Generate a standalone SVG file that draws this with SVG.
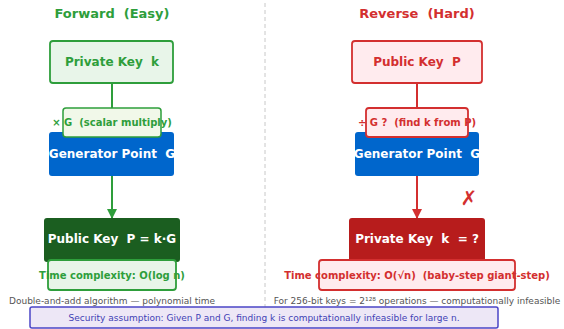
<svg xmlns="http://www.w3.org/2000/svg" width="564" height="329" viewBox="0 0 564 329">
  <style>
    text { font-family: "DejaVu Sans", "Liberation Sans", sans-serif; text-anchor: middle; dominant-baseline: central; white-space: pre; }
    .title { font-size: 13px; font-weight: bold; }
    .node { font-size: 12px; font-weight: bold; }
    .lbl { font-size: 10px; font-weight: bold; }
    .note { font-size: 9px; fill: #555555; }
    .g { fill: #2e9e3b; }
    .r { fill: #d32f2f; }
    .w { fill: #ffffff; }
    .gbox { fill: #e8f5e9; stroke: #2e9e3b; stroke-width: 1.8; }
    .glbl { fill: #f1f8e9; stroke: #2e9e3b; stroke-width: 1.5; }
    .rbox { fill: #ffebee; stroke: #d32f2f; stroke-width: 1.8; }
    .blue { fill: #0066cc; }
    .gline { stroke: #2e9e3b; stroke-width: 2; fill: none; }
    .rline { stroke: #d32f2f; stroke-width: 2; fill: none; }
  </style>
  <defs>
    <marker id="arrG" viewBox="0 0 10 10" refX="9" refY="5" markerWidth="5" markerHeight="5" orient="auto">
      <path d="M0,0 L10,5 L0,10 z" fill="#2e9e3b"/>
    </marker>
    <marker id="arrR" viewBox="0 0 10 10" refX="9" refY="5" markerWidth="5" markerHeight="5" orient="auto">
      <path d="M0,0 L10,5 L0,10 z" fill="#d32f2f"/>
    </marker>
  </defs>

  <!-- column divider -->
  <line x1="265" y1="3" x2="265" y2="308" stroke="#c8c8c8" stroke-width="1" stroke-dasharray="4,3"/>

  <!-- headings -->
  <text class="title g" x="112" y="13" xml:space="preserve">Forward  (Easy)</text>
  <text class="title r" x="417" y="13" xml:space="preserve">Reverse  (Hard)</text>

  <!-- connectors -->
  <g id="connectors">
    <line class="gline" x1="112" y1="83" x2="112" y2="133"/>
    <line class="gline" x1="112" y1="176" x2="112" y2="218" marker-end="url(#arrG)"/>
    <line class="rline" x1="417" y1="83" x2="417" y2="133"/>
    <line class="rline" x1="417" y1="176" x2="417" y2="218" marker-end="url(#arrR)"/>
  </g>

  <!-- forward column -->
  <g id="fwd-private">
    <rect class="gbox" x="50" y="41" width="123" height="42" rx="3"/>
    <text class="node g" x="112" y="62" xml:space="preserve">Private Key  k</text>
  </g>
  <g id="fwd-generator">
    <rect class="blue" x="49" y="132" width="125" height="44" rx="3"/>
    <text class="node w" x="112" y="154" xml:space="preserve">Generator Point  G</text>
  </g>
  <g id="fwd-op">
    <rect class="glbl" x="63" y="108" width="98" height="29" rx="3"/>
    <text class="lbl g" x="112" y="122" xml:space="preserve">× G  (scalar multiply)</text>
  </g>
  <g id="fwd-public">
    <rect fill="#1b5e20" x="44" y="218" width="136" height="44" rx="3"/>
    <text class="node w" x="112" y="239" xml:space="preserve">Public Key  P = k·G</text>
  </g>
  <g id="fwd-time">
    <rect class="gbox" x="48" y="260" width="128" height="30" rx="3" stroke-width="1.5"/>
    <text class="lbl g" x="112" y="275">Time complexity: O(log n)</text>
  </g>
  <text class="note" x="112" y="301">Double-and-add algorithm — polynomial time</text>

  <!-- reverse column -->
  <g id="rev-public">
    <rect class="rbox" x="352" y="41" width="130" height="42" rx="3"/>
    <text class="node r" x="417" y="62" xml:space="preserve">Public Key  P</text>
  </g>
  <g id="rev-generator">
    <rect class="blue" x="355" y="132" width="124" height="44" rx="3"/>
    <text class="node w" x="417" y="154" xml:space="preserve">Generator Point  G</text>
  </g>
  <g id="rev-op">
    <rect class="rbox" x="366" y="108" width="102" height="29" rx="3" stroke-width="1.5"/>
    <text class="lbl r" x="417" y="122" xml:space="preserve">÷ G ?  (find k from P)</text>
  </g>
  <text class="r" x="469" y="198" font-size="20" font-weight="bold">✗</text>
  <g id="rev-private">
    <rect fill="#b71c1c" x="349" y="218" width="136" height="44" rx="3"/>
    <text class="node w" x="417" y="239" xml:space="preserve">Private Key  k  = ?</text>
  </g>
  <g id="rev-time">
    <rect class="rbox" x="319" y="260" width="196" height="30" rx="3" stroke-width="1.5"/>
    <text class="lbl r" x="417" y="275" xml:space="preserve">Time complexity: O(√n)  (baby-step giant-step)</text>
  </g>
  <text class="note" x="417" y="301">For 256-bit keys = 2¹²⁸ operations — computationally infeasible</text>

  <!-- footer -->
  <g id="security">
    <rect x="30" y="307" width="468" height="21" rx="2" fill="#ede7f6" stroke="#4b45c6" stroke-width="1.5"/>
    <text x="264" y="318" font-size="9" fill="#3f3fb5">Security assumption: Given P and G, finding k is computationally infeasible for large n.</text>
  </g>
</svg>
